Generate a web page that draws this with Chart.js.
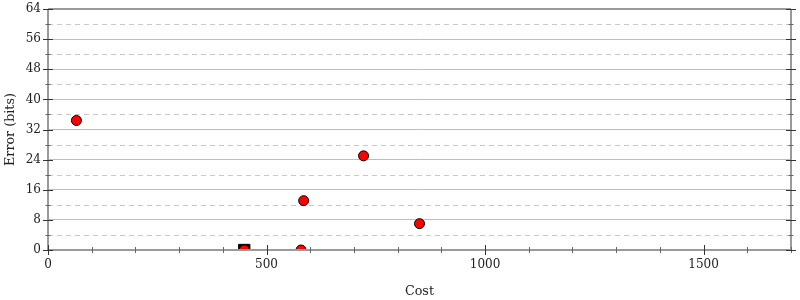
<!DOCTYPE html>
<html>
<head>
<meta charset="utf-8">
<script src="https://cdn.jsdelivr.net/npm/chart.js@4.4.1/dist/chart.umd.min.js"></script>
<style>
  html, body { margin: 0; padding: 0; background: #fff; }
  #wrap { width: 800px; height: 300px; }
</style>
</head>
<body>
<div id="wrap"><canvas id="chart"></canvas></div>
<script>
  // values
  var COST = [65, 449, 579, 585, 722, 850];
  var ERROR = [34.4, 0, 0, 13.1, 25.0, 7.0];
  var BEST_COST = [449];
  var BEST_ERROR = [0];
  var X_MAX = 1700;
  var Y_MAX = 64;
  var X_LABEL_EVERY = 500;
  var Y_LABEL_EVERY = 8;

  var FONT = { family: "'DejaVu Serif', serif", size: 12 };
  var TITLE_FONT = { family: "'DejaVu Serif', serif", size: 12.7 };

  function toPoints(xs, ys) {
    return xs.map(function (x, i) { return { x: x, y: ys[i] }; });
  }

  function px(v) { return Math.round(v) + 0.5; }

  // dashed half-step grid, frame and crossing tick marks
  var framePlugin = {
    id: 'frame',
    beforeDatasetsDraw: function (chart) {
      var ctx = chart.ctx;
      var a = chart.chartArea;
      var ys = chart.scales.y;
      ctx.save();
      ctx.strokeStyle = '#c8c8c8';
      ctx.lineWidth = 1;
      ctx.setLineDash([5, 4]);
      ys.ticks.forEach(function (t) {
        if (t.value % Y_LABEL_EVERY === 0) return;
        var y = px(ys.getPixelForValue(t.value));
        ctx.beginPath();
        ctx.moveTo(a.left, y);
        ctx.lineTo(a.right, y);
        ctx.stroke();
      });
      ctx.restore();
    },
    afterDatasetsDraw: function (chart) {
      var ctx = chart.ctx;
      var a = chart.chartArea;
      var xs = chart.scales.x;
      var ys = chart.scales.y;
      ctx.save();
      ctx.strokeStyle = '#9a9a9a';
      ctx.lineWidth = 2;
      ctx.beginPath();
      ctx.moveTo(a.left, a.top);
      ctx.lineTo(a.right, a.top);
      ctx.moveTo(a.left, a.bottom);
      ctx.lineTo(a.right, a.bottom);
      ctx.moveTo(a.left, a.top);
      ctx.lineTo(a.left, a.bottom);
      ctx.moveTo(a.right, a.top);
      ctx.lineTo(a.right, a.bottom);
      ctx.stroke();

      ctx.lineWidth = 1;
      xs.ticks.forEach(function (t) {
        var major = t.value % X_LABEL_EVERY === 0;
        var len = major ? 5 : 3;
        var x = px(xs.getPixelForValue(t.value));
        ctx.strokeStyle = major ? '#333' : '#666';
        ctx.beginPath();
        ctx.moveTo(x, a.bottom - len);
        ctx.lineTo(x, a.bottom + len);
        ctx.stroke();
      });
      ys.ticks.forEach(function (t) {
        var major = t.value % Y_LABEL_EVERY === 0;
        var len = major ? 5 : 2.5;
        var y = px(ys.getPixelForValue(t.value));
        ctx.strokeStyle = major ? '#333' : '#666';
        [a.left, a.right].forEach(function (x0) {
          ctx.beginPath();
          ctx.moveTo(x0 - len, y);
          ctx.lineTo(x0 + len, y);
          ctx.stroke();
        });
      });
      ctx.restore();
    }
  };

  new Chart(document.getElementById('chart'), {
    type: 'scatter',
    data: {
      datasets: [
        {
          label: 'points',
          data: toPoints(COST, ERROR),
          backgroundColor: '#ff0000',
          borderColor: '#000',
          borderWidth: 1,
          pointRadius: 5,
          pointHoverRadius: 5,
          clip: 0,
          order: 0
        },
        {
          label: 'best',
          data: toPoints(BEST_COST, BEST_ERROR),
          pointStyle: 'rect',
          backgroundColor: '#000',
          borderColor: '#000',
          borderWidth: 1,
          pointRadius: 8,
          pointHoverRadius: 8,
          clip: 0,
          order: 1
        }
      ]
    },
    options: {
      responsive: true,
      maintainAspectRatio: false,
      animation: false,
      layout: { padding: { top: 8, right: 6, left: 0, bottom: 0 } },
      plugins: { legend: { display: false }, tooltip: { enabled: false } },
      scales: {
        x: {
          type: 'linear',
          min: 0,
          max: X_MAX,
          afterFit: function (s) { s.height = 50; s.paddingRight = 0; s.paddingLeft = 0; },
          border: { display: false },
          grid: { drawOnChartArea: false, drawTicks: false },
          ticks: {
            stepSize: 100,
            padding: 8,
            maxRotation: 0,
            autoSkip: false,
            color: '#222',
            font: FONT,
            callback: function (v) { return v % X_LABEL_EVERY === 0 ? v : ''; }
          },
          title: {
            display: true,
            text: 'Cost',
            color: '#222',
            font: TITLE_FONT,
            padding: { top: 0, bottom: 1 }
          }
        },
        y: {
          type: 'linear',
          min: 0,
          max: Y_MAX,
          afterFit: function (s) { s.width = 48; s.paddingTop = 0; s.paddingBottom = 0; },
          border: { display: false },
          grid: {
            drawTicks: false,
            color: function (c) {
              return c.tick && c.tick.value % Y_LABEL_EVERY === 0 ? '#bdbdbd' : 'rgba(0,0,0,0)';
            }
          },
          ticks: {
            stepSize: 4,
            padding: 7,
            autoSkip: false,
            color: '#222',
            font: FONT,
            callback: function (v) { return v % Y_LABEL_EVERY === 0 ? v : ''; }
          },
          title: {
            display: true,
            text: 'Error (bits)',
            color: '#222',
            font: TITLE_FONT,
            padding: { top: 3, bottom: 0 }
          }
        }
      }
    },
    plugins: [framePlugin]
  });
</script>
</body>
</html>
